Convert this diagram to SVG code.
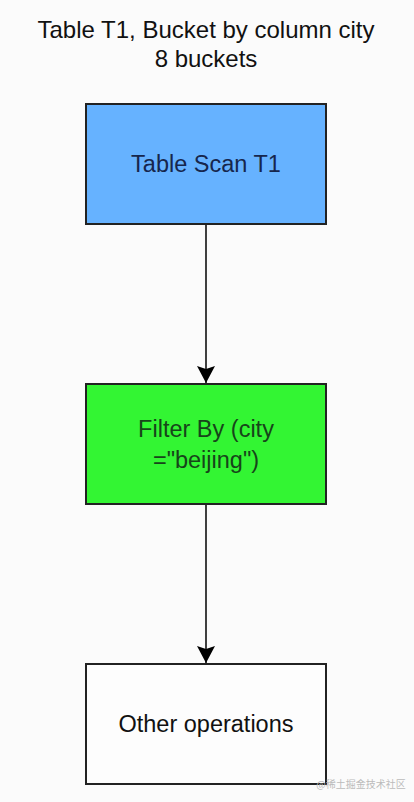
<svg xmlns="http://www.w3.org/2000/svg" width="414" height="802" viewBox="0 0 414 802">
<style>
.t{font-family:"Liberation Sans",Arial,sans-serif;font-size:23.5px;text-anchor:middle}
.title{font-size:24px}
.box{stroke:#222;stroke-width:2}
.edge{stroke:#111;stroke-width:1.6;fill:none}
</style>
<defs>
<marker id="arr" markerWidth="17" markerHeight="18" refX="17" refY="9" orient="auto" markerUnits="userSpaceOnUse" viewBox="0 0 17 18">
<path d="M0,0 L17,9 L0,18 L3,9 Z" fill="#000"/>
</marker>
</defs>
<rect width="414" height="802" fill="#fbfbfb"/>
<g id="title">
<text class="t title" x="206" y="38" fill="#111">Table T1, Bucket by column city</text>
<text class="t title" x="206" y="67" fill="#111">8 buckets</text>
</g>
<g id="connectors">
<path class="edge" d="M206,224 L206,383" marker-end="url(#arr)"/>
<path class="edge" d="M206,504 L206,663" marker-end="url(#arr)"/>
</g>
<g id="scan">
<rect class="box" x="86" y="104" width="240" height="120" fill="#66b2ff"/>
<text class="t" x="206" y="172" fill="#16264d">Table Scan T1</text>
</g>
<g id="filter">
<rect class="box" x="86" y="384" width="240" height="120" fill="#33f533"/>
<text class="t" x="206" y="437" fill="#17441a">Filter By (city</text>
<text class="t" x="206" y="468" fill="#17441a">="beijing")</text>
</g>
<g id="other">
<rect class="box" x="86" y="664" width="240" height="120" fill="#fdfdfd"/>
<text class="t" x="206" y="732" fill="#111">Other operations</text>
</g>
<text x="361" y="788" font-family="'Noto Sans CJK SC',sans-serif" font-size="10" fill="#bbb" text-anchor="middle">@稀土掘金技术社区</text>
</svg>
